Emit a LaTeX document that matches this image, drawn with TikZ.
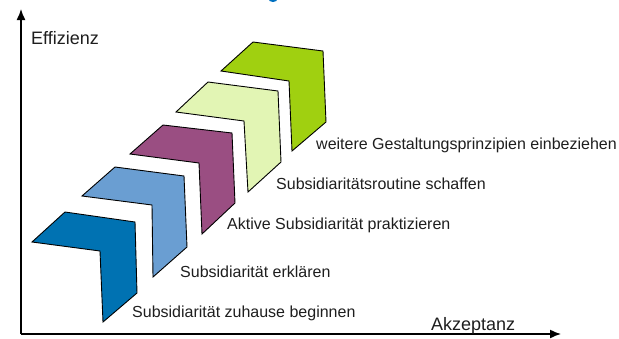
\documentclass[tikz,border=0pt]{standalone}
\usepackage{fontspec}
\setmainfont{Liberation Sans}
\usetikzlibrary{arrows.meta}
\definecolor{cDarkBlue}{RGB}{0,114,178}
\definecolor{cLightBlue}{RGB}{106,158,210}
\definecolor{cPurple}{RGB}{154,78,130}
\definecolor{cLightGreen}{RGB}{226,245,180}
\definecolor{cGreen}{RGB}{160,208,16}
\definecolor{cTxt}{RGB}{30,30,30}
\definecolor{cTitle}{RGB}{0,112,192}
\tikzset{
  chev/.style={draw=black, line width=0.9pt, line join=miter},
  lbl/.style={anchor=base west, inner sep=0pt, text=cTxt, font=\fontsize{16}{19}\selectfont},
  axlbl/.style={anchor=base west, inner sep=0pt, text=cTxt, font=\fontsize{18}{21}\selectfont},
  axis/.style={line width=1.4pt, -{Latex[length=11pt,width=9pt]}}
}
\begin{document}
\begin{tikzpicture}[x=1pt,y=-1pt]
\useasboundingbox (0,0) rectangle (619,338);
\begin{scope}
\clip (0,0) rectangle (619,338);
\fill[cTitle] (273,-1) ellipse [x radius=4.5, y radius=3];
\end{scope}
% axes
\coordinate (O) at (21,334);
\coordinate (ytip) at (21,9);
\coordinate (xtip) at (561,334);
\draw[axis] (O) -- (ytip);
\draw[axis] (O) -- (xtip);
\node[axlbl] (eff) at (31,44) {Effizienz};
\node[axlbl] (akz) at (431,330) {Akzeptanz};
% chevrons
\filldraw[chev, fill=cDarkBlue] (65,212) -- (135,222) -- (137,293) -- (103,322) -- (100,251) -- (32,242) -- cycle;
\filldraw[chev, fill=cLightBlue] (115,167) -- (184,176) -- (187,247) -- (153,277) -- (152,205) -- (82,196) -- cycle;
\filldraw[chev, fill=cPurple] (163,125) -- (232,133) -- (235,203) -- (202,234) -- (199,163) -- (130,154) -- cycle;
\filldraw[chev, fill=cLightGreen] (208,82) -- (278,91) -- (281,162) -- (248,192) -- (244,121) -- (176,112) -- cycle;
\filldraw[chev, fill=cGreen] (253,42) -- (323,51) -- (326,122) -- (292,151) -- (289,81) -- (221,71) -- cycle;
% labels
\node[lbl] (l1) at (132,317) {Subsidiarität zuhause beginnen};
\node[lbl] (l2) at (180,277) {Subsidiarität erklären};
\node[lbl] (l3) at (227,229) {Aktive Subsidiarität praktizieren};
\node[lbl] (l4) at (276,189) {Subsidiaritätsroutine schaffen};
\node[lbl] (l5) at (316,149) {weitere Gestaltungsprinzipien einbeziehen};
\end{tikzpicture}
\end{document}
